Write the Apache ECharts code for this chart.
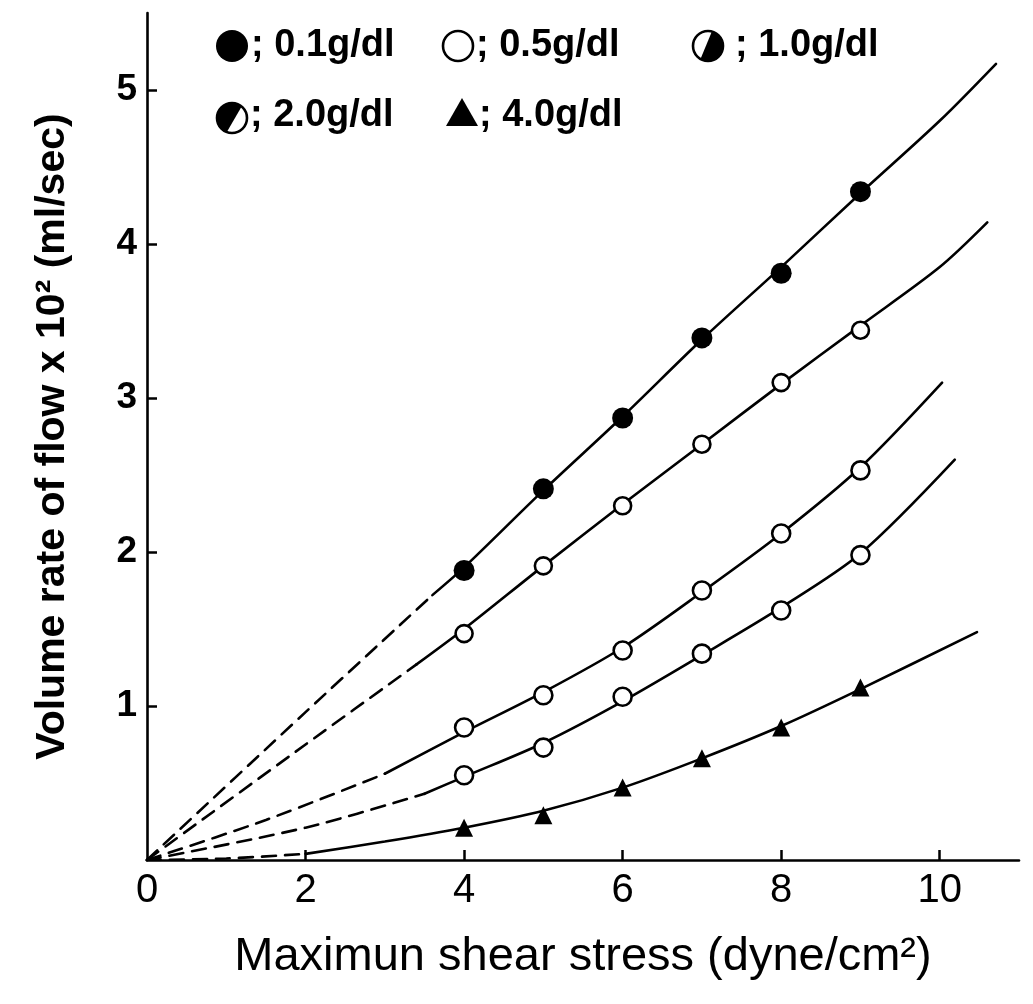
<!DOCTYPE html>
<html><head><meta charset="utf-8">
<script src="https://cdn.jsdelivr.net/npm/echarts@6/dist/echarts.min.js"></script>
<style>html,body{margin:0;padding:0;background:#fff}#c{width:1033px;height:1004px}</style>
</head><body><div id="c"></div>
<script>
// ---- data ----
const xTickLabels = [0, 2, 4, 6, 8, 10];
const yTickLabels = [1, 2, 3, 4, 5];
const concentrations = ['0.1g/dl', '0.5g/dl', '1.0g/dl', '2.0g/dl', '4.0g/dl'];
const stress = [4, 5, 6, 7, 8, 9];
const flow01 = [1.88, 2.41, 2.87, 3.39, 3.81, 4.34];
const flow05 = [1.47, 1.91, 2.30, 2.70, 3.10, 3.44];
const flow10 = [0.86, 1.07, 1.36, 1.75, 2.12, 2.53];
const flow20 = [0.55, 0.73, 1.06, 1.34, 1.62, 1.98];
const flow40 = [0.21, 0.29, 0.47, 0.66, 0.86, 1.12];
// fitted curves (solid part) and extrapolations to origin (dashed part)
const curve01 = [[3.6,1.72],[4,1.90],[5,2.40],[6,2.88],[7,3.38],[8,3.85],[9,4.33],[10,4.80],[10.71,5.17]];
const dash01  = [[0,0],[2,0.96],[3.6,1.72]];
const curve05 = [[3.4,1.27],[4,1.50],[5,1.91],[6,2.31],[7,2.70],[8,3.09],[9,3.47],[10,3.85],[10.6,4.14]];
const dash05  = [[0,0],[2,0.75],[3.4,1.27]];
const curve10 = [[3,0.56],[4,0.83],[5,1.09],[6,1.38],[7,1.74],[8,2.12],[9,2.55],[10.03,3.10]];
const dash10  = [[0,0],[1.5,0.26],[3,0.56]];
const curve20 = [[3.5,0.43],[4,0.54],[5,0.76],[6,1.03],[7,1.33],[8,1.64],[9,1.99],[10.19,2.60]];
const dash20  = [[0,0],[2,0.21],[3.5,0.43]];
const curve40 = [[2,0.04],[3,0.12],[4,0.21],[5,0.32],[6,0.47],[7,0.66],[8,0.87],[9,1.11],[10.47,1.48]];
const dash40  = [[0,0],[1,0.01],[2,0.04]];

const pts = (ys) => stress.map((x, i) => [x, ys[i]]);
const FONT = '"Liberation Sans", Arial, Helvetica, sans-serif';

function lineSeries(data, dashed) {
  return {
    type: 'line', data: data, smooth: 0.3, symbol: 'none', silent: true, z: 2,
    lineStyle: { color: '#000', width: 2.6, type: dashed ? [14, 9] : 'solid', cap: 'round' }
  };
}
function markSeries(name, ys, symbol, filled, size) {
  return {
    type: 'scatter', name: name, data: pts(ys), symbol: symbol, symbolSize: size, z: 5,
    itemStyle: filled ? { color: '#000', opacity: 1 } : { color: '#fff', borderColor: '#000', borderWidth: 2.6, opacity: 1 }
  };
}

// legend icon helpers (decoration only)
function segment(cx, cy, r, a1, a2) {
  const p = [];
  const n = 40;
  for (let i = 0; i <= n; i++) {
    const a = (a1 + (a2 - a1) * i / n) * Math.PI / 180;
    p.push([cx + r * Math.cos(a), cy - r * Math.sin(a)]);
  }
  return p;
}
function halfIcon(cx, cy, r, a1, a2) {
  return [
    { type: 'circle', shape: { cx, cy, r }, style: { fill: '#fff', stroke: '#000', lineWidth: 2.6 } },
    { type: 'polygon', shape: { points: segment(cx, cy, r, a1, a2) }, style: { fill: '#000' } }
  ];
}
const legendText = (x, y, t) => ({ type: 'text', x, y, style: { text: t, font: 'bold 38px ' + FONT, fill: '#000', verticalAlign: 'middle', align: 'left' } });

const chart = echarts.init(document.getElementById('c'), null, { renderer: 'canvas' });
chart.setOption({
  backgroundColor: '#fff',
  animation: false,
  grid: { left: 147, right: 14, top: 13, bottom: 144, containLabel: false },
  xAxis: {
    type: 'value', min: 0, max: 11, interval: 2,
    name: 'Maximun shear stress (dyne/cm²)', nameLocation: 'middle', nameGap: 74,
    nameTextStyle: { fontFamily: FONT, fontSize: 47, color: '#000' },
    axisLine: { show: true, lineStyle: { color: '#000', width: 2.6 } },
    axisTick: { show: true, inside: true, length: 10, lineStyle: { color: '#000', width: 2.5 }, customValues: [2, 4, 6, 8, 10] },
    axisLabel: { customValues: xTickLabels, fontFamily: FONT, fontSize: 40, color: '#000', margin: 11 },
    splitLine: { show: false }
  },
  yAxis: {
    type: 'value', min: 0, max: 5.5, interval: 1,
    name: 'Volume rate of flow x 10² (ml/sec)', nameLocation: 'middle', nameGap: 74, nameRotate: 90,
    nameTextStyle: { fontFamily: FONT, fontSize: 41, fontWeight: 'bold', color: '#000' },
    axisLine: { show: true, lineStyle: { color: '#000', width: 2.6 } },
    axisTick: { show: true, inside: true, length: 10, lineStyle: { color: '#000', width: 2.5 }, customValues: yTickLabels },
    axisLabel: { customValues: yTickLabels, fontFamily: FONT, fontSize: 37, fontWeight: 'bold', color: '#000', margin: 10 },
    splitLine: { show: false }
  },
  series: [
    lineSeries(dash01, true), lineSeries(curve01, false),
    lineSeries(dash05, true), lineSeries(curve05, false),
    lineSeries(dash10, true), lineSeries(curve10, false),
    lineSeries(dash20, true), lineSeries(curve20, false),
    lineSeries(dash40, true), lineSeries(curve40, false),
    markSeries(concentrations[0], flow01, 'circle', true, 21),
    markSeries(concentrations[1], flow05, 'circle', false, 17),
    markSeries(concentrations[2], flow10, 'circle', false, 18),
    markSeries(concentrations[3], flow20, 'circle', false, 18),
    markSeries(concentrations[4], flow40, 'triangle', true, 18)
  ],
  graphic: [
    { type: 'circle', shape: { cx: 232, cy: 46, r: 16 }, style: { fill: '#000' } },
    legendText(251, 46, '; ' + concentrations[0]),
    { type: 'circle', shape: { cx: 458, cy: 46, r: 15 }, style: { fill: '#fff', stroke: '#000', lineWidth: 2.6 } },
    legendText(476, 46, '; ' + concentrations[1]),
    ...halfIcon(708, 46, 15, -120, 75),
    legendText(735, 46, '; ' + concentrations[2]),
    ...halfIcon(232, 118, 15, 50, 250),
    legendText(250, 116, '; ' + concentrations[3]),
    { type: 'polygon', shape: { points: [[462, 98], [446, 126], [478, 126]] }, style: { fill: '#000' } },
    legendText(479, 116, '; ' + concentrations[4])
  ]
});
</script></body></html>
